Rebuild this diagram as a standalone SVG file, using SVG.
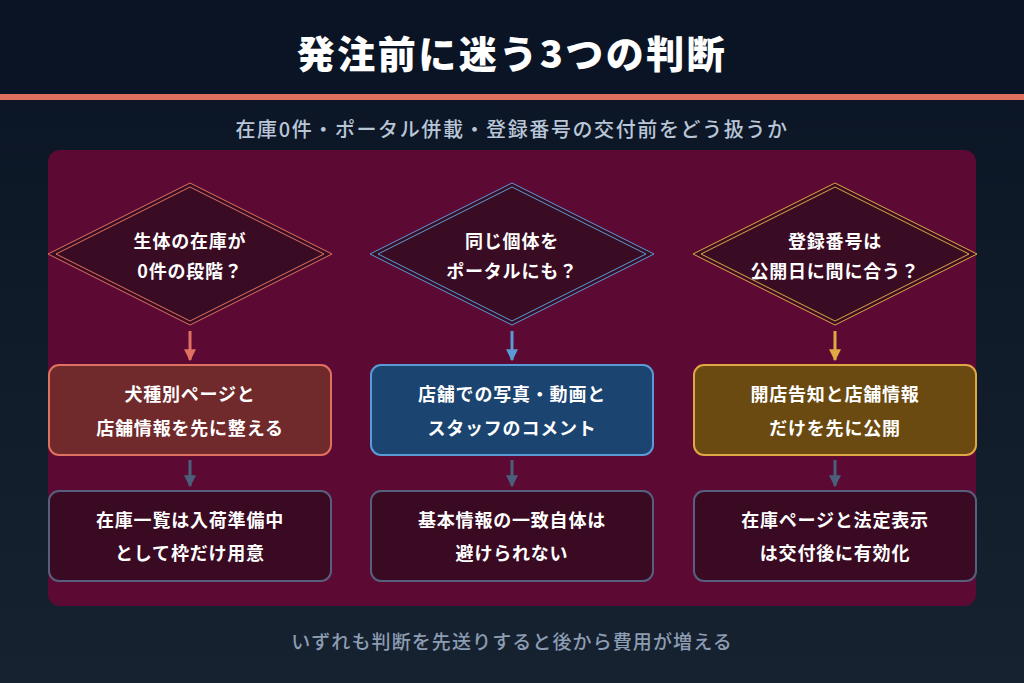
<svg xmlns="http://www.w3.org/2000/svg" width="1024" height="683" viewBox="0 0 1024 683">
<defs>
<linearGradient id="bg" x1="0" y1="0" x2="0" y2="1">
<stop offset="0" stop-color="#0a1424"/>
<stop offset="1" stop-color="#172230"/>
</linearGradient>
<marker id="mc" viewBox="0 0 10 10" refX="9" refY="5" markerWidth="4" markerHeight="4" orient="auto" markerUnits="strokeWidth"><path d="M0,0 L10,5 L0,10 z" fill="#e07060"/></marker>
<marker id="mb" viewBox="0 0 10 10" refX="9" refY="5" markerWidth="4" markerHeight="4" orient="auto" markerUnits="strokeWidth"><path d="M0,0 L10,5 L0,10 z" fill="#5b9bd5"/></marker>
<marker id="my" viewBox="0 0 10 10" refX="9" refY="5" markerWidth="4" markerHeight="4" orient="auto" markerUnits="strokeWidth"><path d="M0,0 L10,5 L0,10 z" fill="#e0a844"/></marker>
<marker id="mg" viewBox="0 0 10 10" refX="9" refY="5" markerWidth="4" markerHeight="4" orient="auto" markerUnits="strokeWidth"><path d="M0,0 L10,5 L0,10 z" fill="#4b5e7c"/></marker>
</defs>
<style>
text{font-family:"Noto Sans CJK JP","Noto Sans",sans-serif;text-anchor:middle;dominant-baseline:central}
.t{fill:#ffffff;font-size:18px;font-weight:700;letter-spacing:0.8px}
.dia{fill:#3a0c24}
.dl{fill:none;stroke-width:1}
.bot{fill:#3a0a22;stroke:#56607e;stroke-width:2}
</style>
<rect width="1024" height="683" fill="url(#bg)"/>
<rect width="1024" height="94" fill="#0a1424"/>
<rect y="94" width="1024" height="6" fill="#e07060"/>
<text x="512" y="51" fill="#ffffff" font-size="38" font-weight="900" letter-spacing="2.5">発注前に迷う3つの判断</text>
<text x="512" y="128" fill="#b9c6d8" font-size="20" font-weight="500" letter-spacing="1.6">在庫0件・ポータル併載・登録番号の交付前をどう扱うか</text>
<rect x="48" y="150" width="928" height="456" rx="12" fill="#5c0a33"/>
<g id="connectors">
<line x1="190" y1="331" x2="190" y2="360" stroke="#e07060" stroke-width="3" marker-end="url(#mc)"/>
<line x1="512" y1="331" x2="512" y2="360" stroke="#5b9bd5" stroke-width="3" marker-end="url(#mb)"/>
<line x1="835" y1="331" x2="835" y2="360" stroke="#e0a844" stroke-width="3" marker-end="url(#my)"/>
<line x1="190" y1="460" x2="190" y2="486" stroke="#4b5e7c" stroke-width="3" marker-end="url(#mg)"/>
<line x1="512" y1="460" x2="512" y2="486" stroke="#4b5e7c" stroke-width="3" marker-end="url(#mg)"/>
<line x1="835" y1="460" x2="835" y2="486" stroke="#4b5e7c" stroke-width="3" marker-end="url(#mg)"/>
</g>
<g id="q1">
<polygon class="dia" points="190,183 332,254 190,325 48,254"/>
<polygon class="dl" stroke="#e07060" points="190,183 332,254 190,325 48,254"/>
<polygon class="dl" stroke="#e07060" points="190,187 324,254 190,321 56,254"/>
<text class="t" x="190" y="240">生体の在庫が</text>
<text class="t" x="190" y="270">0件の段階？</text>
</g>
<g id="q2">
<polygon class="dia" points="512,183 654,254 512,325 370,254"/>
<polygon class="dl" stroke="#5b9bd5" points="512,183 654,254 512,325 370,254"/>
<polygon class="dl" stroke="#5b9bd5" points="512,187 646,254 512,321 378,254"/>
<text class="t" x="512" y="240">同じ個体を</text>
<text class="t" x="512" y="270">ポータルにも？</text>
</g>
<g id="q3">
<polygon class="dia" points="835,183 977,254 835,325 693,254"/>
<polygon class="dl" stroke="#e0a844" points="835,183 977,254 835,325 693,254"/>
<polygon class="dl" stroke="#e0a844" points="835,187 969,254 835,321 701,254"/>
<text class="t" x="835" y="240">登録番号は</text>
<text class="t" x="835" y="270">公開日に間に合う？</text>
</g>
<g id="a1">
<rect x="49" y="365" width="282" height="90" rx="10" fill="#702a2c" stroke="#e07060" stroke-width="2"/>
<text class="t" x="190" y="393">犬種別ページと</text>
<text class="t" x="190" y="427">店舗情報を先に整える</text>
</g>
<g id="a2">
<rect x="371" y="365" width="282" height="90" rx="10" fill="#1b4470" stroke="#5b9bd5" stroke-width="2"/>
<text class="t" x="512" y="393">店舗での写真・動画と</text>
<text class="t" x="512" y="427">スタッフのコメント</text>
</g>
<g id="a3">
<rect x="694" y="365" width="282" height="90" rx="10" fill="#6a4a10" stroke="#e0a844" stroke-width="2"/>
<text class="t" x="835" y="393">開店告知と店舗情報</text>
<text class="t" x="835" y="427">だけを先に公開</text>
</g>
<g id="b1">
<rect class="bot" x="49" y="491" width="282" height="90" rx="10"/>
<text class="t" x="190" y="519">在庫一覧は入荷準備中</text>
<text class="t" x="190" y="552">として枠だけ用意</text>
</g>
<g id="b2">
<rect class="bot" x="371" y="491" width="282" height="90" rx="10"/>
<text class="t" x="512" y="519">基本情報の一致自体は</text>
<text class="t" x="512" y="552">避けられない</text>
</g>
<g id="b3">
<rect class="bot" x="694" y="491" width="282" height="90" rx="10"/>
<text class="t" x="835" y="519">在庫ページと法定表示</text>
<text class="t" x="835" y="552">は交付後に有効化</text>
</g>
<text x="512" y="640" fill="#8c9cb2" font-size="19" font-weight="500" letter-spacing="1.1">いずれも判断を先送りすると後から費用が増える</text>
</svg>
